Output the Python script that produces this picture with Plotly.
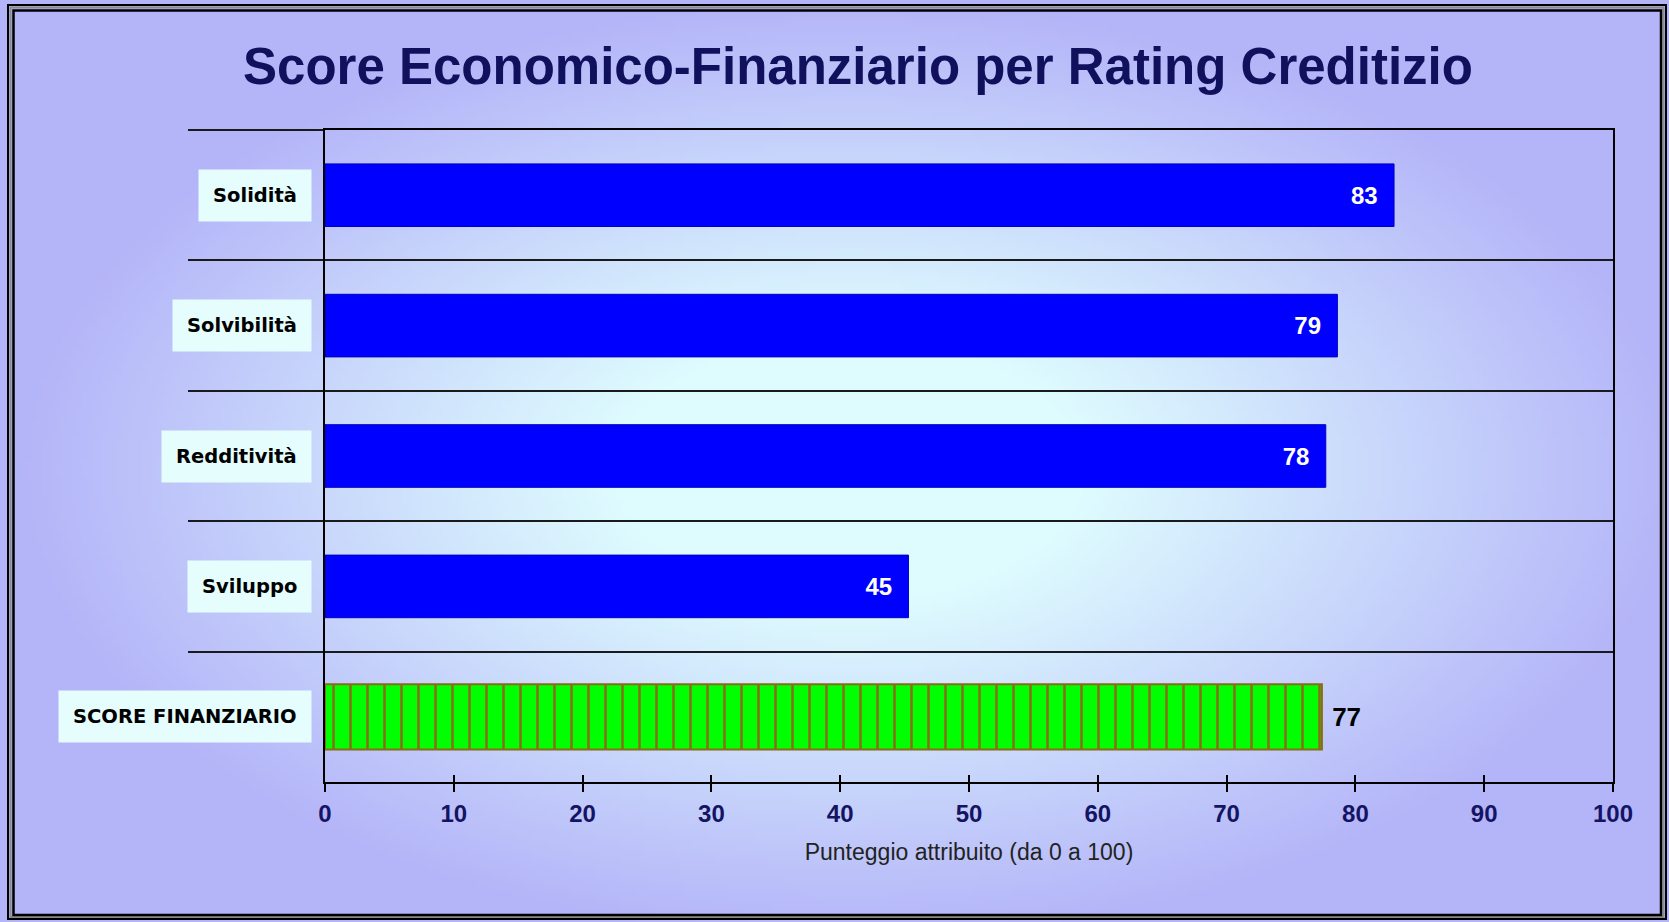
import base64
import struct
import zlib

import numpy as np
import plotly.graph_objects as go

# ---------------- data ----------------
categories = ["Solidità", "Solvibilità", "Redditività", "Sviluppo", "SCORE FINANZIARIO"]
component_names = ["Solidità", "Solvibilità", "Redditività", "Sviluppo"]
component_scores = [83.0, 78.6, 77.7, 45.3]
total_name = ["SCORE FINANZIARIO"]
total_score = [77.4]
x_ticks = [0, 10, 20, 30, 40, 50, 60, 70, 80, 90, 100]

title_text = "Score Economico-Finanziario per Rating Creditizio"
x_title = "Punteggio attribuito (da 0 a 100)"

# ---------------- geometry ----------------
W, H = 1669, 922
L, R, T, B = 325, 56, 130, 140
PW, PH = W - L - R, H - T - B


def px(xp):
    return (xp - L) / PW


def py(yp):
    return (H - B - yp) / PH


# ---------------- background gradient image ----------------
def make_png(arr):
    h, w, _ = arr.shape
    raw = b"".join(b"\x00" + arr[i].tobytes() for i in range(h))

    def chunk(tag, data):
        return (struct.pack(">I", len(data)) + tag + data
                + struct.pack(">I", zlib.crc32(tag + data) & 0xFFFFFFFF))

    return (b"\x89PNG\r\n\x1a\n"
            + chunk(b"IHDR", struct.pack(">IIBBBBB", w, h, 8, 2, 0, 0, 0))
            + chunk(b"IDAT", zlib.compress(raw, 9))
            + chunk(b"IEND", b""))


gw, gh = 334, 185
gx = (np.arange(gw) + 0.5) * W / gw
gy = (np.arange(gh) + 0.5) * H / gh
GX, GY = np.meshgrid(gx, gy)
cx, cy, rx, ry = 850.0, 470.0, 830.0, 470.0
dist = np.sqrt(((GX - cx) / rx) ** 2 + ((GY - cy) / ry) ** 2)
s = np.clip((dist - 0.28) / 0.72, 0, 1)[..., None]
c_center = np.array([222, 252, 254], dtype=float)
c_edge = np.array([180, 180, 248], dtype=float)
img = (c_center + (c_edge - c_center) * s).round().astype(np.uint8)
bg_uri = "data:image/png;base64," + base64.b64encode(make_png(img)).decode()

# ---------------- figure ----------------
fig = go.Figure()

fig.add_trace(go.Bar(
    y=component_names, x=component_scores, orientation="h",
    width=0.48,
    marker=dict(color="#0000FF", line=dict(color="#0000C0", width=1)),
    texttemplate="%{x:.0f}\u00a0\u00a0", textposition="inside",
    insidetextanchor="end", textangle=0,
    textfont=dict(family="Liberation Sans", size=24, color="#FFFFFF", weight="bold"),
    hoverinfo="skip", showlegend=False,
))

fig.add_trace(go.Bar(
    y=total_name, x=total_score, orientation="h", xaxis="x2",
    width=0.5,
    marker=dict(color="#00FF00", line=dict(color="#8B6B14", width=2),
                pattern=dict(shape="|", fgcolor="#85701A", bgcolor="#00FF00",
                             size=17, solidity=0.15, fillmode="replace")),
    texttemplate="\u00a0%{x:.0f}", textposition="outside", textangle=0,
    textfont=dict(family="Liberation Sans", size=26, color="#000000", weight="bold"),
    cliponaxis=False, hoverinfo="skip", showlegend=False,
))

# category labels in boxes
for cat in categories:
    fig.add_annotation(
        x=px(312), y=cat, xref="paper", yref="y", xanchor="right", yanchor="middle",
        text=cat, showarrow=False,
        font=dict(family="DejaVu Sans", size=19.5, color="#000000", weight="bold"),
        bgcolor="#E6FDFD", borderpad=14,
    )

# frame
frame = [
    (8, 5, 1666, 919, "#000000", 2),
    (10.5, 7.5, 1663.5, 917, "#8C8C8C", 2),
    (13.5, 10.5, 1661, 915, "#000000", 2.5),
]
for x0, y0, x1, y1, col, lw in frame:
    fig.add_shape(type="rect", xref="paper", yref="paper",
                  x0=px(x0), x1=px(x1), y0=py(y1), y1=py(y0),
                  line=dict(color=col, width=lw), fillcolor="rgba(0,0,0,0)",
                  layer="above")

fig.add_layout_image(dict(
    source=bg_uri, xref="paper", yref="paper",
    x=px(0), y=py(0), sizex=W / PW, sizey=H / PH,
    xanchor="left", yanchor="top", sizing="stretch", layer="below", opacity=1,
))

fig.update_layout(
    width=W, height=H, autosize=False,
    margin=dict(l=L, r=R, t=T, b=B, pad=0),
    paper_bgcolor="#E8E8F0", plot_bgcolor="rgba(0,0,0,0)",
    barmode="overlay", bargap=0.5,
    title=dict(text=title_text, x=858 / W, y=1 - 66 / H, xref="container",
               yref="container", xanchor="center", yanchor="middle",
               font=dict(family="Liberation Sans", size=51, color="#10105C",
                         weight="bold")),
    xaxis=dict(range=[0, 100], tickvals=x_ticks, ticks="outside", ticklen=8,
               tickwidth=2, tickcolor="#000000",
               showline=True, linewidth=2, linecolor="#000000", mirror=True,
               showgrid=False, zeroline=False, ticklabelstandoff=1,
               tickfont=dict(family="Liberation Sans", size=24, color="#141464",
                             weight="bold"),
               title=dict(text=x_title, standoff=18,
                          font=dict(family="Liberation Sans", size=23,
                                    color="#222222"))),
    xaxis2=dict(range=[0, 100], overlaying="x", anchor="y", side="bottom",
                tickvals=x_ticks, ticks="inside", ticklen=7, tickwidth=2,
                tickcolor="#000000", showticklabels=False, showline=False,
                showgrid=False, zeroline=False),
    yaxis=dict(type="category", categoryorder="array", categoryarray=categories,
               autorange="reversed", tickson="boundaries", ticks="outside",
               ticklen=135, tickwidth=2, tickcolor="#1A1A1A",
               showgrid=True, gridcolor="#1A1A1A", gridwidth=2,
               showline=True, linewidth=2, linecolor="#000000", mirror=True,
               showticklabels=False, zeroline=False),
)

fig.write_html("out.html",
               config={"displayModeBar": False},
               post_script="document.body.style.margin='0';"
                           "document.documentElement.style.overflow='hidden';")
